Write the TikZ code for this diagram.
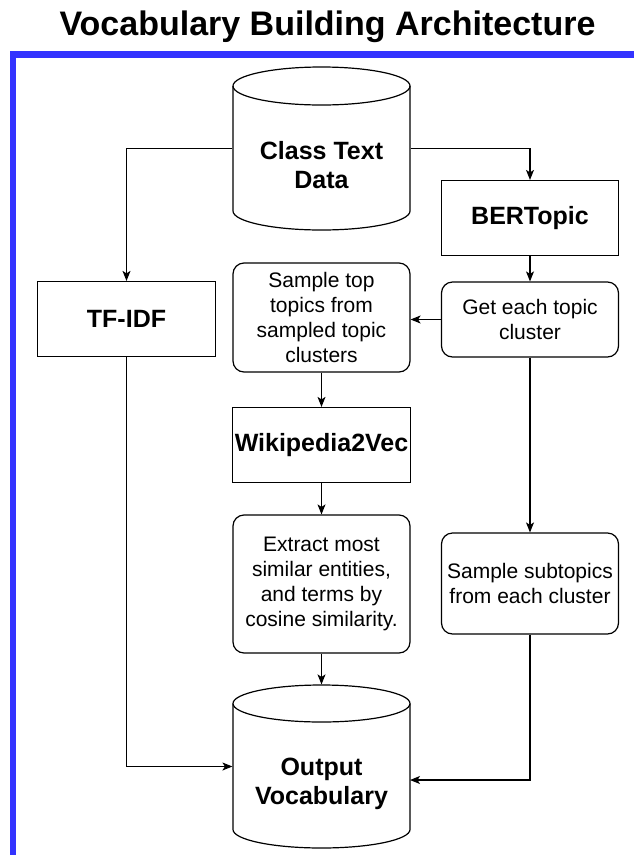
\documentclass[tikz,border=0pt]{standalone}
\usepackage{fontspec}
\setmainfont{Liberation Sans}
\usetikzlibrary{arrows.meta,calc}
\definecolor{bordblue}{HTML}{3333FF}
\begin{document}
\begin{tikzpicture}[x=1pt,y=-1pt,line width=1.2pt,
  box/.style={draw,rectangle,minimum width=178pt,minimum height=75pt,inner sep=0pt,align=center,font=\bfseries\fontsize{25}{29}\selectfont},
  rbox/.style={draw,rectangle,rounded corners=11pt,minimum width=177pt,inner sep=0pt,align=center,font=\fontsize{21}{25}\selectfont},
  cylarea/.style={rectangle,draw=none,minimum width=177pt,minimum height=163pt,inner sep=0pt},
  cyltext/.style={align=center,inner sep=0pt,font=\bfseries\fontsize{25}{29}\selectfont},
  conn/.style={-{Stealth[length=10pt,width=8pt,inset=2.5pt]},line width=1.2pt},
  titlestyle/.style={font=\bfseries\fontsize{34}{38}\selectfont,inner sep=0pt}]
\useasboundingbox (0,0) rectangle (634,855);
% blue border
\fill[bordblue] (10,51) rectangle (16,855);
\fill[bordblue] (10,51) rectangle (634,58);
% title
\node[titlestyle,anchor=base] (title) at (327.5,35) {Vocabulary Building Architecture};
% cylinders
\node[cylarea] (ctd) at (321.5,148.5) {};
\draw (321.5,86) ellipse [x radius=88.5pt,y radius=19pt];
\draw (233,86) -- (233,211) .. controls (233,221.5) and (272.6,230) .. (321.5,230) .. controls (370.4,230) and (410,221.5) .. (410,211) -- (410,86);
\node[cyltext] (ctdt) at (321.5,165.5) {Class Text\\Data};
\node[cylarea] (out) at (321.5,766.5) {};
\draw (321.5,703.5) ellipse [x radius=88.5pt,y radius=18.5pt];
\draw (233,703.5) -- (233,829.5) .. controls (233,839.7) and (272.6,848) .. (321.5,848) .. controls (370.4,848) and (410,839.7) .. (410,829.5) -- (410,703.5);
\node[cyltext] (outt) at (321.5,783.5) {Output\\Vocabulary};
% boxes
\node[box,minimum width=177pt] (bert) at (530,218) {BERTopic};
\node[rbox,minimum height=75pt] (get) at (530,319.5) {Get each topic\\cluster};
\node[box] (tfidf) at (126.5,319) {TF-IDF};
\node[rbox,minimum height=109pt] (stt) at (321.5,317.5) {Sample top\\topics from\\sampled topic\\clusters};
\node[box] (wiki) at (321.5,445) {Wikipedia2Vec};
\node[rbox,minimum height=138pt] (ext) at (321.5,584) {Extract most\\similar entities,\\and terms by\\cosine similarity.};
\node[rbox,minimum height=101pt] (sub) at (530,583.5) {Sample subtopics\\from each cluster};
\coordinate (outR) at (410,780);
% connectors
\draw[conn] (ctd.west) -| (tfidf.north);
\draw[conn] (ctd.east) -| (bert.north);
\draw[conn] (bert.south) -- (get.north);
\draw[conn] (get.west) -- (get.west -| stt.east);
\draw[conn] (stt.south) -- (wiki.north);
\draw[conn] (wiki.south) -- (ext.north);
\draw[conn] (ext.south) -- (out.north);
\draw[conn] (get.south) -- (sub.north);
\draw[conn] (tfidf.south) |- (out.west);
\draw[conn] (sub.south) |- (outR);
\end{tikzpicture}
\end{document}
